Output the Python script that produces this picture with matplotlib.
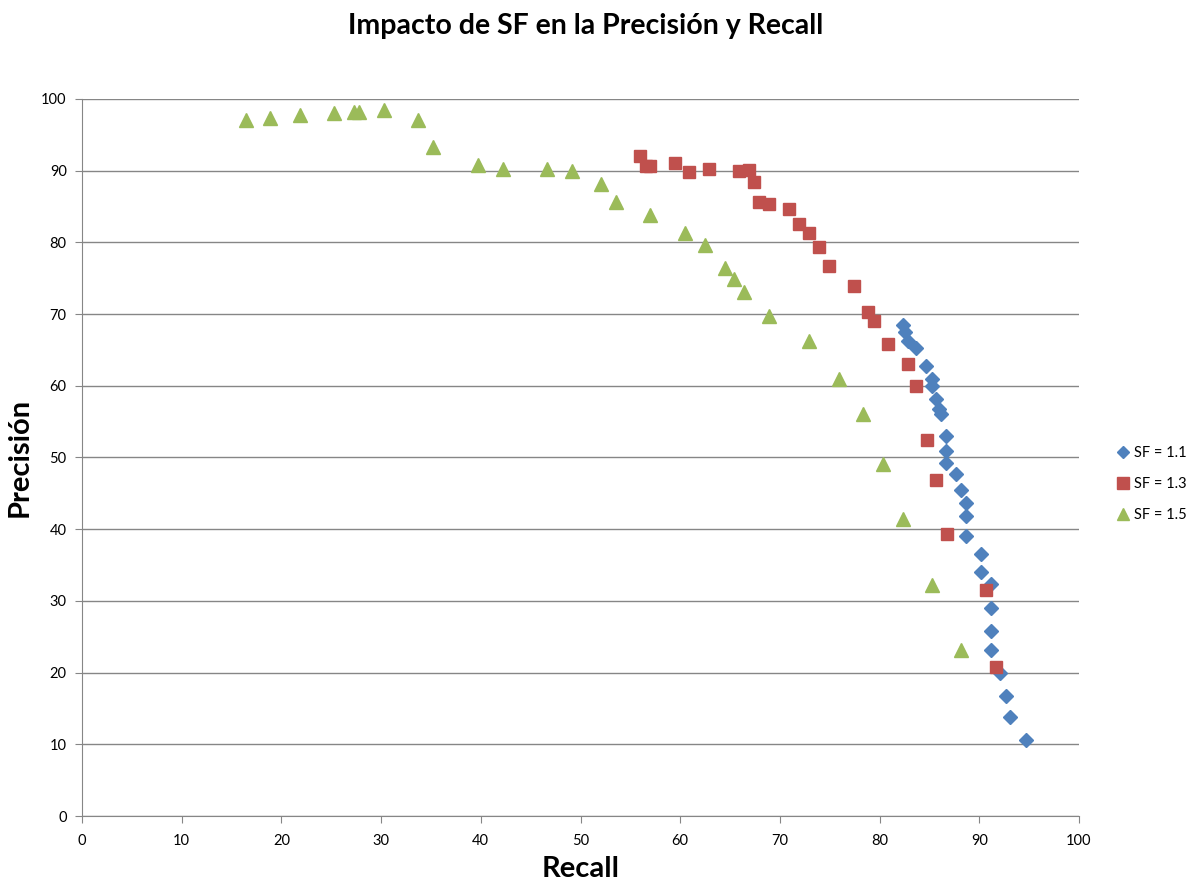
import numpy as np
import matplotlib
matplotlib.use('Agg')
import matplotlib.pyplot as plt

# SF = 1.1
recall_11 = [82.3, 82.5, 82.8, 83.7, 84.7, 85.3, 85.3, 85.7, 86.0, 86.2, 86.7, 86.7,
             86.7, 87.7, 88.2, 88.7, 88.7, 88.7, 90.2, 90.2, 91.2, 91.2, 91.2, 91.2,
             92.1, 92.7, 93.1, 94.7]
prec_11 = [68.5, 67.5, 66.2, 65.3, 62.8, 61.0, 60.0, 58.2, 56.8, 56.1, 53.0, 50.9,
           49.3, 47.7, 45.4, 43.6, 41.8, 39.0, 36.5, 34.0, 32.3, 29.0, 25.8, 23.2,
           20.0, 16.7, 13.8, 10.6]

# SF = 1.3
recall_13 = [56.0, 56.6, 57.0, 59.5, 60.9, 62.9, 65.9, 66.9, 67.4, 67.9, 68.9, 70.9,
             71.9, 72.9, 73.9, 74.9, 77.4, 78.8, 79.4, 80.8, 82.8, 83.7, 84.8, 85.7,
             86.8, 90.7, 91.7]
prec_13 = [92.0, 90.6, 90.7, 91.0, 89.8, 90.2, 90.0, 90.1, 88.4, 85.7, 85.4, 84.6,
           82.5, 81.3, 79.3, 76.7, 73.9, 70.3, 69.0, 65.8, 63.0, 60.0, 52.4, 46.9,
           39.3, 31.5, 20.8]

# SF = 1.5
recall_15 = [16.4, 18.9, 21.9, 25.3, 27.3, 27.8, 30.3, 33.7, 35.2, 39.7, 42.2, 46.6,
             49.1, 52.1, 53.6, 57.0, 60.5, 62.5, 64.5, 65.4, 66.4, 68.9, 72.9, 75.9,
             78.3, 80.3, 82.3, 85.3, 88.2]
prec_15 = [97.0, 97.4, 97.8, 98.0, 98.2, 98.2, 98.4, 97.1, 93.3, 90.8, 90.3, 90.3,
           90.0, 88.1, 85.7, 83.8, 81.3, 79.6, 76.4, 74.9, 73.1, 69.7, 66.2, 61.0,
           56.1, 49.1, 41.4, 32.2, 23.2]

labels = ['SF = 1.1', 'SF = 1.3', 'SF = 1.5']

plt.rcParams['font.family'] = ['Lato', 'DejaVu Sans']

fig = plt.figure(figsize=(11.92, 8.82), dpi=100)
ax = fig.add_axes([0.0688, 0.0748, 0.8364, 0.813])

ax.plot(recall_11, prec_11, 'D', color='#4F81BD', markersize=7, label=labels[0], zorder=3)
ax.plot(recall_13, prec_13, 's', color='#C0504D', markersize=9, label=labels[1], zorder=3)
ax.plot(recall_15, prec_15, '^', color='#9BBB59', markersize=9.5, label=labels[2], zorder=3)

ax.set_xlim(0, 100)
ax.set_ylim(0, 100)
ax.set_xticks(np.arange(0, 101, 10))
ax.set_yticks(np.arange(0, 101, 10))
ax.yaxis.grid(True, color='#868686', linewidth=1)
ax.set_axisbelow(True)
for s in ['top', 'right']:
	ax.spines[s].set_visible(False)
for s in ['left', 'bottom']:
	ax.spines[s].set_color('#868686')
ax.tick_params(axis='both', direction='out', length=5, color='#868686',
			   labelsize=10.5, labelcolor='#000000')
ax.tick_params(axis='x', pad=8)
ax.tick_params(axis='y', pad=6)

ax.set_xlabel('Recall', fontsize=21, fontweight='bold', labelpad=6)
ax.set_ylabel('Precisión', fontsize=21, fontweight='bold', labelpad=6)

fig.text(0.4916, 0.985, 'Impacto de SF en la Precisión y Recall', ha='center', va='top',
		 fontsize=20.5, fontweight='bold')

ax.legend(loc='center left', bbox_to_anchor=(1.027, 0.463), frameon=False,
		  fontsize=10.5, handlelength=0.6, handletextpad=0.4, labelspacing=1.15,
		  markerscale=0.9)

fig.savefig('out.png', dpi=100)
